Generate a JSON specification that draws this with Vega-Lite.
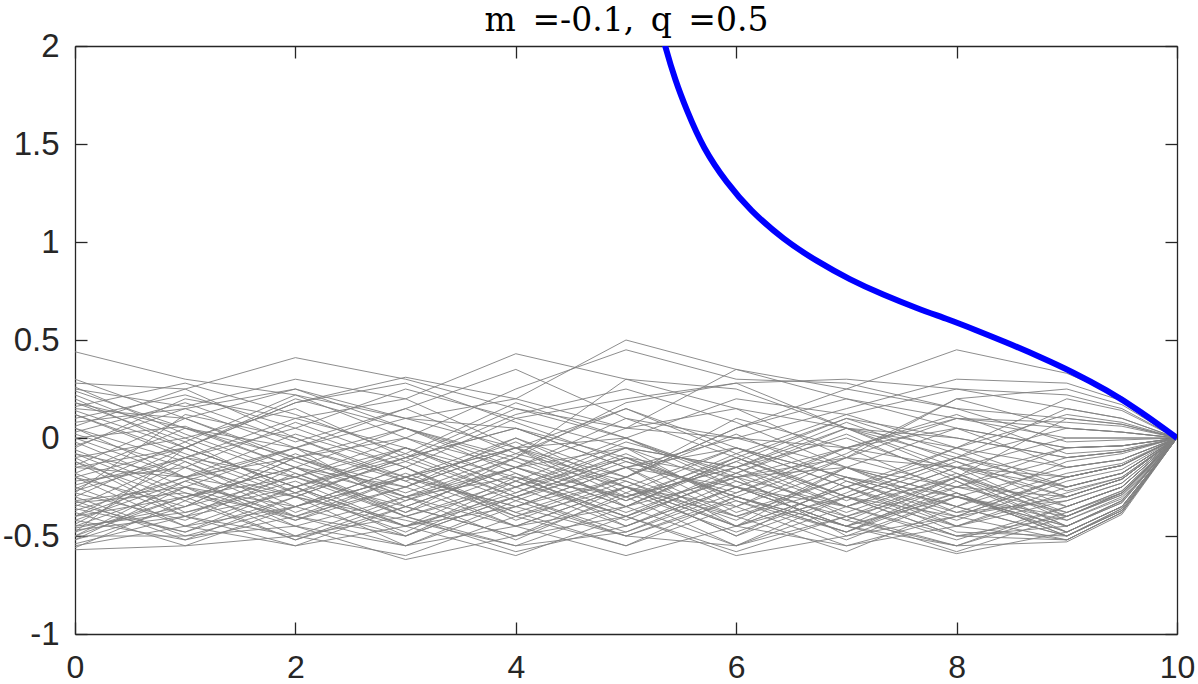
{
"$schema":"https://vega.github.io/schema/vega-lite/v6.json",
"autosize":"none",
"width":1102,"height":588,
"padding":{"left":75,"top":46,"right":21,"bottom":50},
"background":"white",
"config":{"view":{"stroke":null},"font":"Liberation Sans"},
"datasets":{
"paths":[
{"p":1,"x":0,"y":0.44},{"p":1,"x":1,"y":0.30},{"p":1,"x":2,"y":0.22},{"p":1,"x":3,"y":0.10},{"p":1,"x":4,"y":0.05},{"p":1,"x":5,"y":-0.10},{"p":1,"x":6,"y":-0.20},{"p":1,"x":7,"y":-0.15},{"p":1,"x":8,"y":-0.25},{"p":1,"x":9,"y":-0.30},{"p":1,"x":9.5,"y":-0.21},{"p":1,"x":10,"y":0},
{"p":2,"x":0,"y":0.28},{"p":2,"x":1,"y":0.25},{"p":2,"x":2,"y":0.41},{"p":2,"x":3,"y":0.30},{"p":2,"x":4,"y":0.15},{"p":2,"x":5,"y":0.05},{"p":2,"x":6,"y":0.00},{"p":2,"x":7,"y":-0.05},{"p":2,"x":8,"y":-0.15},{"p":2,"x":9,"y":-0.20},{"p":2,"x":9.5,"y":-0.14},{"p":2,"x":10,"y":0},
{"p":3,"x":0,"y":0.25},{"p":3,"x":1,"y":0.16},{"p":3,"x":2,"y":0.30},{"p":3,"x":3,"y":0.20},{"p":3,"x":4,"y":0.43},{"p":3,"x":5,"y":0.30},{"p":3,"x":6,"y":0.15},{"p":3,"x":7,"y":0.05},{"p":3,"x":8,"y":0.00},{"p":3,"x":9,"y":-0.10},{"p":3,"x":9.5,"y":-0.07},{"p":3,"x":10,"y":0},
{"p":4,"x":0,"y":0.20},{"p":4,"x":1,"y":-0.05},{"p":4,"x":2,"y":0.18},{"p":4,"x":3,"y":0.31},{"p":4,"x":4,"y":0.20},{"p":4,"x":5,"y":0.50},{"p":4,"x":6,"y":0.35},{"p":4,"x":7,"y":0.20},{"p":4,"x":8,"y":0.10},{"p":4,"x":9,"y":0.05},{"p":4,"x":9.5,"y":0.03},{"p":4,"x":10,"y":0},
{"p":5,"x":0,"y":0.18},{"p":5,"x":1,"y":0.05},{"p":5,"x":2,"y":-0.10},{"p":5,"x":3,"y":0.00},{"p":5,"x":4,"y":0.25},{"p":5,"x":5,"y":0.45},{"p":5,"x":6,"y":0.30},{"p":5,"x":7,"y":0.28},{"p":5,"x":8,"y":0.15},{"p":5,"x":9,"y":0.10},{"p":5,"x":9.5,"y":0.07},{"p":5,"x":10,"y":0},
{"p":6,"x":0,"y":0.15},{"p":6,"x":1,"y":0.10},{"p":6,"x":2,"y":0.25},{"p":6,"x":3,"y":0.10},{"p":6,"x":4,"y":0.20},{"p":6,"x":5,"y":0.05},{"p":6,"x":6,"y":0.35},{"p":6,"x":7,"y":0.25},{"p":6,"x":8,"y":0.45},{"p":6,"x":9,"y":0.33},{"p":6,"x":9.5,"y":0.21},{"p":6,"x":10,"y":0},
{"p":7,"x":0,"y":0.12},{"p":7,"x":1,"y":-0.10},{"p":7,"x":2,"y":0.05},{"p":7,"x":3,"y":0.25},{"p":7,"x":4,"y":0.10},{"p":7,"x":5,"y":0.20},{"p":7,"x":6,"y":0.28},{"p":7,"x":7,"y":0.30},{"p":7,"x":8,"y":0.25},{"p":7,"x":9,"y":0.22},{"p":7,"x":9.5,"y":0.15},{"p":7,"x":10,"y":0},
{"p":8,"x":0,"y":0.05},{"p":8,"x":1,"y":-0.20},{"p":8,"x":2,"y":-0.05},{"p":8,"x":3,"y":0.15},{"p":8,"x":4,"y":0.35},{"p":8,"x":5,"y":0.10},{"p":8,"x":6,"y":0.00},{"p":8,"x":7,"y":0.15},{"p":8,"x":8,"y":0.30},{"p":8,"x":9,"y":0.28},{"p":8,"x":9.5,"y":0.19},{"p":8,"x":10,"y":0},
{"p":9,"x":0,"y":0.00},{"p":9,"x":1,"y":0.06},{"p":9,"x":2,"y":-0.15},{"p":9,"x":3,"y":-0.30},{"p":9,"x":4,"y":-0.10},{"p":9,"x":5,"y":0.30},{"p":9,"x":6,"y":0.25},{"p":9,"x":7,"y":0.05},{"p":9,"x":8,"y":-0.05},{"p":9,"x":9,"y":0.20},{"p":9,"x":9.5,"y":0.14},{"p":9,"x":10,"y":0},
{"p":10,"x":0,"y":-0.02},{"p":10,"x":1,"y":-0.25},{"p":10,"x":2,"y":-0.35},{"p":10,"x":3,"y":-0.20},{"p":10,"x":4,"y":-0.05},{"p":10,"x":5,"y":0.00},{"p":10,"x":6,"y":0.20},{"p":10,"x":7,"y":0.12},{"p":10,"x":8,"y":0.25},{"p":10,"x":9,"y":0.15},{"p":10,"x":9.5,"y":0.10},{"p":10,"x":10,"y":0},
{"p":11,"x":0,"y":-0.05},{"p":11,"x":1,"y":0.20},{"p":11,"x":2,"y":0.10},{"p":11,"x":3,"y":-0.05},{"p":11,"x":4,"y":-0.20},{"p":11,"x":5,"y":-0.30},{"p":11,"x":6,"y":-0.10},{"p":11,"x":7,"y":0.10},{"p":11,"x":8,"y":0.00},{"p":11,"x":9,"y":-0.10},{"p":11,"x":9.5,"y":-0.07},{"p":11,"x":10,"y":0},
{"p":12,"x":0,"y":-0.08},{"p":12,"x":1,"y":-0.30},{"p":12,"x":2,"y":-0.20},{"p":12,"x":3,"y":-0.40},{"p":12,"x":4,"y":-0.25},{"p":12,"x":5,"y":-0.10},{"p":12,"x":6,"y":-0.30},{"p":12,"x":7,"y":-0.45},{"p":12,"x":8,"y":-0.20},{"p":12,"x":9,"y":-0.05},{"p":12,"x":9.5,"y":-0.04},{"p":12,"x":10,"y":0},
{"p":13,"x":0,"y":-0.10},{"p":13,"x":1,"y":0.00},{"p":13,"x":2,"y":0.15},{"p":13,"x":3,"y":-0.10},{"p":13,"x":4,"y":0.05},{"p":13,"x":5,"y":-0.15},{"p":13,"x":6,"y":-0.05},{"p":13,"x":7,"y":-0.20},{"p":13,"x":8,"y":-0.30},{"p":13,"x":9,"y":-0.40},{"p":13,"x":9.5,"y":-0.28},{"p":13,"x":10,"y":0},
{"p":14,"x":0,"y":-0.12},{"p":14,"x":1,"y":-0.40},{"p":14,"x":2,"y":-0.50},{"p":14,"x":3,"y":-0.30},{"p":14,"x":4,"y":-0.45},{"p":14,"x":5,"y":-0.25},{"p":14,"x":6,"y":-0.40},{"p":14,"x":7,"y":-0.20},{"p":14,"x":8,"y":-0.35},{"p":14,"x":9,"y":-0.50},{"p":14,"x":9.5,"y":-0.36},{"p":14,"x":10,"y":0},
{"p":15,"x":0,"y":-0.15},{"p":15,"x":1,"y":-0.20},{"p":15,"x":2,"y":-0.30},{"p":15,"x":3,"y":-0.55},{"p":15,"x":4,"y":-0.35},{"p":15,"x":5,"y":-0.50},{"p":15,"x":6,"y":-0.30},{"p":15,"x":7,"y":-0.10},{"p":15,"x":8,"y":-0.15},{"p":15,"x":9,"y":-0.25},{"p":15,"x":9.5,"y":-0.18},{"p":15,"x":10,"y":0},
{"p":16,"x":0,"y":-0.18},{"p":16,"x":1,"y":0.05},{"p":16,"x":2,"y":-0.05},{"p":16,"x":3,"y":-0.20},{"p":16,"x":4,"y":-0.35},{"p":16,"x":5,"y":-0.15},{"p":16,"x":6,"y":-0.25},{"p":16,"x":7,"y":-0.35},{"p":16,"x":8,"y":-0.50},{"p":16,"x":9,"y":-0.45},{"p":16,"x":9.5,"y":-0.32},{"p":16,"x":10,"y":0},
{"p":17,"x":0,"y":-0.20},{"p":17,"x":1,"y":-0.35},{"p":17,"x":2,"y":-0.10},{"p":17,"x":3,"y":0.05},{"p":17,"x":4,"y":-0.10},{"p":17,"x":5,"y":-0.25},{"p":17,"x":6,"y":-0.50},{"p":17,"x":7,"y":-0.30},{"p":17,"x":8,"y":-0.10},{"p":17,"x":9,"y":0.05},{"p":17,"x":9.5,"y":0.03},{"p":17,"x":10,"y":0},
{"p":18,"x":0,"y":-0.22},{"p":18,"x":1,"y":-0.15},{"p":18,"x":2,"y":-0.40},{"p":18,"x":3,"y":-0.25},{"p":18,"x":4,"y":-0.05},{"p":18,"x":5,"y":-0.35},{"p":18,"x":6,"y":-0.20},{"p":18,"x":7,"y":-0.50},{"p":18,"x":8,"y":-0.40},{"p":18,"x":9,"y":-0.30},{"p":18,"x":9.5,"y":-0.21},{"p":18,"x":10,"y":0},
{"p":19,"x":0,"y":-0.25},{"p":19,"x":1,"y":-0.45},{"p":19,"x":2,"y":-0.25},{"p":19,"x":3,"y":-0.10},{"p":19,"x":4,"y":-0.30},{"p":19,"x":5,"y":-0.15},{"p":19,"x":6,"y":-0.45},{"p":19,"x":7,"y":-0.25},{"p":19,"x":8,"y":-0.05},{"p":19,"x":9,"y":-0.15},{"p":19,"x":9.5,"y":-0.11},{"p":19,"x":10,"y":0},
{"p":20,"x":0,"y":-0.27},{"p":20,"x":1,"y":-0.10},{"p":20,"x":2,"y":-0.30},{"p":20,"x":3,"y":-0.45},{"p":20,"x":4,"y":-0.20},{"p":20,"x":5,"y":-0.40},{"p":20,"x":6,"y":-0.15},{"p":20,"x":7,"y":0.00},{"p":20,"x":8,"y":-0.20},{"p":20,"x":9,"y":-0.35},{"p":20,"x":9.5,"y":-0.25},{"p":20,"x":10,"y":0},
{"p":21,"x":0,"y":-0.30},{"p":21,"x":1,"y":-0.50},{"p":21,"x":2,"y":-0.35},{"p":21,"x":3,"y":-0.15},{"p":21,"x":4,"y":-0.40},{"p":21,"x":5,"y":-0.55},{"p":21,"x":6,"y":-0.35},{"p":21,"x":7,"y":-0.15},{"p":21,"x":8,"y":-0.30},{"p":21,"x":9,"y":-0.45},{"p":21,"x":9.5,"y":-0.32},{"p":21,"x":10,"y":0},
{"p":22,"x":0,"y":-0.32},{"p":22,"x":1,"y":-0.25},{"p":22,"x":2,"y":-0.05},{"p":22,"x":3,"y":-0.35},{"p":22,"x":4,"y":-0.50},{"p":22,"x":5,"y":-0.30},{"p":22,"x":6,"y":-0.55},{"p":22,"x":7,"y":-0.40},{"p":22,"x":8,"y":-0.25},{"p":22,"x":9,"y":-0.10},{"p":22,"x":9.5,"y":-0.07},{"p":22,"x":10,"y":0},
{"p":23,"x":0,"y":-0.35},{"p":23,"x":1,"y":-0.10},{"p":23,"x":2,"y":-0.20},{"p":23,"x":3,"y":-0.05},{"p":23,"x":4,"y":-0.25},{"p":23,"x":5,"y":-0.45},{"p":23,"x":6,"y":-0.25},{"p":23,"x":7,"y":-0.05},{"p":23,"x":8,"y":0.10},{"p":23,"x":9,"y":0.00},{"p":23,"x":9.5,"y":0.00},{"p":23,"x":10,"y":0},
{"p":24,"x":0,"y":-0.37},{"p":24,"x":1,"y":-0.20},{"p":24,"x":2,"y":-0.45},{"p":24,"x":3,"y":-0.30},{"p":24,"x":4,"y":-0.15},{"p":24,"x":5,"y":-0.05},{"p":24,"x":6,"y":-0.35},{"p":24,"x":7,"y":-0.55},{"p":24,"x":8,"y":-0.45},{"p":24,"x":9,"y":-0.25},{"p":24,"x":9.5,"y":-0.18},{"p":24,"x":10,"y":0},
{"p":25,"x":0,"y":-0.40},{"p":25,"x":1,"y":-0.30},{"p":25,"x":2,"y":-0.15},{"p":25,"x":3,"y":-0.40},{"p":25,"x":4,"y":-0.55},{"p":25,"x":5,"y":-0.35},{"p":25,"x":6,"y":-0.10},{"p":25,"x":7,"y":-0.30},{"p":25,"x":8,"y":-0.50},{"p":25,"x":9,"y":-0.40},{"p":25,"x":9.5,"y":-0.28},{"p":25,"x":10,"y":0},
{"p":26,"x":0,"y":-0.42},{"p":26,"x":1,"y":-0.52},{"p":26,"x":2,"y":-0.40},{"p":26,"x":3,"y":-0.20},{"p":26,"x":4,"y":-0.35},{"p":26,"x":5,"y":-0.20},{"p":26,"x":6,"y":-0.40},{"p":26,"x":7,"y":-0.25},{"p":26,"x":8,"y":-0.10},{"p":26,"x":9,"y":-0.20},{"p":26,"x":9.5,"y":-0.14},{"p":26,"x":10,"y":0},
{"p":27,"x":0,"y":-0.45},{"p":27,"x":1,"y":-0.25},{"p":27,"x":2,"y":-0.50},{"p":27,"x":3,"y":-0.60},{"p":27,"x":4,"y":-0.40},{"p":27,"x":5,"y":-0.25},{"p":27,"x":6,"y":-0.05},{"p":27,"x":7,"y":-0.20},{"p":27,"x":8,"y":-0.35},{"p":27,"x":9,"y":-0.50},{"p":27,"x":9.5,"y":-0.36},{"p":27,"x":10,"y":0},
{"p":28,"x":0,"y":-0.47},{"p":28,"x":1,"y":-0.40},{"p":28,"x":2,"y":-0.55},{"p":28,"x":3,"y":-0.45},{"p":28,"x":4,"y":-0.30},{"p":28,"x":5,"y":-0.50},{"p":28,"x":6,"y":-0.55},{"p":28,"x":7,"y":-0.35},{"p":28,"x":8,"y":-0.15},{"p":28,"x":9,"y":-0.30},{"p":28,"x":9.5,"y":-0.21},{"p":28,"x":10,"y":0},
{"p":29,"x":0,"y":-0.48},{"p":29,"x":1,"y":-0.05},{"p":29,"x":2,"y":-0.25},{"p":29,"x":3,"y":-0.50},{"p":29,"x":4,"y":-0.30},{"p":29,"x":5,"y":-0.10},{"p":29,"x":6,"y":-0.30},{"p":29,"x":7,"y":-0.45},{"p":29,"x":8,"y":-0.55},{"p":29,"x":9,"y":-0.35},{"p":29,"x":9.5,"y":-0.25},{"p":29,"x":10,"y":0},
{"p":30,"x":0,"y":-0.50},{"p":30,"x":1,"y":-0.30},{"p":30,"x":2,"y":-0.15},{"p":30,"x":3,"y":-0.25},{"p":30,"x":4,"y":-0.45},{"p":30,"x":5,"y":-0.60},{"p":30,"x":6,"y":-0.45},{"p":30,"x":7,"y":-0.30},{"p":30,"x":8,"y":-0.40},{"p":30,"x":9,"y":-0.52},{"p":30,"x":9.5,"y":-0.38},{"p":30,"x":10,"y":0},
{"p":31,"x":0,"y":-0.50},{"p":31,"x":1,"y":-0.50},{"p":31,"x":2,"y":-0.45},{"p":31,"x":3,"y":-0.62},{"p":31,"x":4,"y":-0.50},{"p":31,"x":5,"y":-0.40},{"p":31,"x":6,"y":-0.60},{"p":31,"x":7,"y":-0.50},{"p":31,"x":8,"y":-0.30},{"p":31,"x":9,"y":-0.45},{"p":31,"x":9.5,"y":-0.32},{"p":31,"x":10,"y":0},
{"p":32,"x":0,"y":-0.52},{"p":32,"x":1,"y":-0.35},{"p":32,"x":2,"y":-0.20},{"p":32,"x":3,"y":0.00},{"p":32,"x":4,"y":-0.15},{"p":32,"x":5,"y":-0.30},{"p":32,"x":6,"y":-0.15},{"p":32,"x":7,"y":-0.40},{"p":32,"x":8,"y":-0.58},{"p":32,"x":9,"y":-0.40},{"p":32,"x":9.5,"y":-0.28},{"p":32,"x":10,"y":0},
{"p":33,"x":0,"y":-0.55},{"p":33,"x":1,"y":-0.45},{"p":33,"x":2,"y":-0.35},{"p":33,"x":3,"y":-0.20},{"p":33,"x":4,"y":-0.05},{"p":33,"x":5,"y":0.15},{"p":33,"x":6,"y":-0.05},{"p":33,"x":7,"y":-0.25},{"p":33,"x":8,"y":-0.45},{"p":33,"x":9,"y":-0.28},{"p":33,"x":9.5,"y":-0.20},{"p":33,"x":10,"y":0},
{"p":34,"x":0,"y":-0.57},{"p":34,"x":1,"y":-0.55},{"p":34,"x":2,"y":-0.50},{"p":34,"x":3,"y":-0.40},{"p":34,"x":4,"y":-0.58},{"p":34,"x":5,"y":-0.45},{"p":34,"x":6,"y":-0.25},{"p":34,"x":7,"y":-0.45},{"p":34,"x":8,"y":-0.59},{"p":34,"x":9,"y":-0.48},{"p":34,"x":9.5,"y":-0.35},{"p":34,"x":10,"y":0},
{"p":35,"x":0,"y":0.30},{"p":35,"x":1,"y":0.10},{"p":35,"x":2,"y":-0.10},{"p":35,"x":3,"y":-0.25},{"p":35,"x":4,"y":0.00},{"p":35,"x":5,"y":-0.20},{"p":35,"x":6,"y":0.10},{"p":35,"x":7,"y":-0.05},{"p":35,"x":8,"y":0.05},{"p":35,"x":9,"y":-0.05},{"p":35,"x":9.5,"y":-0.04},{"p":35,"x":10,"y":0},
{"p":36,"x":0,"y":0.10},{"p":36,"x":1,"y":0.22},{"p":36,"x":2,"y":0.05},{"p":36,"x":3,"y":-0.15},{"p":36,"x":4,"y":0.10},{"p":36,"x":5,"y":-0.05},{"p":36,"x":6,"y":-0.15},{"p":36,"x":7,"y":0.05},{"p":36,"x":8,"y":-0.10},{"p":36,"x":9,"y":0.15},{"p":36,"x":9.5,"y":0.10},{"p":36,"x":10,"y":0},
{"p":37,"x":0,"y":-0.15},{"p":37,"x":1,"y":-0.05},{"p":37,"x":2,"y":0.20},{"p":37,"x":3,"y":0.05},{"p":37,"x":4,"y":-0.15},{"p":37,"x":5,"y":0.05},{"p":37,"x":6,"y":0.15},{"p":37,"x":7,"y":-0.10},{"p":37,"x":8,"y":0.10},{"p":37,"x":9,"y":0.08},{"p":37,"x":9.5,"y":0.06},{"p":37,"x":10,"y":0},
{"p":38,"x":0,"y":-0.28},{"p":38,"x":1,"y":0.12},{"p":38,"x":2,"y":0.00},{"p":38,"x":3,"y":-0.20},{"p":38,"x":4,"y":-0.40},{"p":38,"x":5,"y":-0.20},{"p":38,"x":6,"y":0.05},{"p":38,"x":7,"y":0.20},{"p":38,"x":8,"y":0.05},{"p":38,"x":9,"y":-0.15},{"p":38,"x":9.5,"y":-0.11},{"p":38,"x":10,"y":0},
{"p":39,"x":0,"y":0.02},{"p":39,"x":1,"y":-0.15},{"p":39,"x":2,"y":-0.30},{"p":39,"x":3,"y":-0.10},{"p":39,"x":4,"y":0.15},{"p":39,"x":5,"y":0.00},{"p":39,"x":6,"y":-0.20},{"p":39,"x":7,"y":-0.35},{"p":39,"x":8,"y":-0.20},{"p":39,"x":9,"y":0.10},{"p":39,"x":9.5,"y":0.07},{"p":39,"x":10,"y":0},
{"p":40,"x":0,"y":-0.40},{"p":40,"x":1,"y":-0.20},{"p":40,"x":2,"y":-0.10},{"p":40,"x":3,"y":-0.30},{"p":40,"x":4,"y":-0.20},{"p":40,"x":5,"y":-0.40},{"p":40,"x":6,"y":-0.20},{"p":40,"x":7,"y":-0.10},{"p":40,"x":8,"y":-0.25},{"p":40,"x":9,"y":-0.38},{"p":40,"x":9.5,"y":-0.27},{"p":40,"x":10,"y":0},
{"p":41,"x":0,"y":-0.20},{"p":41,"x":1,"y":-0.45},{"p":41,"x":2,"y":-0.55},{"p":41,"x":3,"y":-0.35},{"p":41,"x":4,"y":-0.50},{"p":41,"x":5,"y":-0.25},{"p":41,"x":6,"y":-0.45},{"p":41,"x":7,"y":-0.55},{"p":41,"x":8,"y":-0.40},{"p":41,"x":9,"y":-0.20},{"p":41,"x":9.5,"y":-0.14},{"p":41,"x":10,"y":0},
{"p":42,"x":0,"y":-0.33},{"p":42,"x":1,"y":-0.28},{"p":42,"x":2,"y":-0.40},{"p":42,"x":3,"y":-0.50},{"p":42,"x":4,"y":-0.25},{"p":42,"x":5,"y":-0.05},{"p":42,"x":6,"y":-0.25},{"p":42,"x":7,"y":-0.40},{"p":42,"x":8,"y":-0.55},{"p":42,"x":9,"y":-0.53},{"p":42,"x":9.5,"y":-0.39},{"p":42,"x":10,"y":0},
{"p":43,"x":0,"y":0.22},{"p":43,"x":1,"y":0.00},{"p":43,"x":2,"y":-0.20},{"p":43,"x":3,"y":-0.35},{"p":43,"x":4,"y":-0.15},{"p":43,"x":5,"y":0.10},{"p":43,"x":6,"y":-0.10},{"p":43,"x":7,"y":-0.30},{"p":43,"x":8,"y":-0.10},{"p":43,"x":9,"y":-0.25},{"p":43,"x":9.5,"y":-0.18},{"p":43,"x":10,"y":0},
{"p":44,"x":0,"y":-0.45},{"p":44,"x":1,"y":-0.38},{"p":44,"x":2,"y":-0.25},{"p":44,"x":3,"y":-0.45},{"p":44,"x":4,"y":-0.35},{"p":44,"x":5,"y":-0.15},{"p":44,"x":6,"y":0.00},{"p":44,"x":7,"y":-0.15},{"p":44,"x":8,"y":-0.30},{"p":44,"x":9,"y":-0.42},{"p":44,"x":9.5,"y":-0.30},{"p":44,"x":10,"y":0},
{"p":45,"x":0,"y":-0.06},{"p":45,"x":1,"y":-0.28},{"p":45,"x":2,"y":-0.45},{"p":45,"x":3,"y":-0.55},{"p":45,"x":4,"y":-0.45},{"p":45,"x":5,"y":-0.35},{"p":45,"x":6,"y":-0.55},{"p":45,"x":7,"y":-0.30},{"p":45,"x":8,"y":-0.45},{"p":45,"x":9,"y":-0.32},{"p":45,"x":9.5,"y":-0.23},{"p":45,"x":10,"y":0},
{"p":46,"x":0,"y":0.08},{"p":46,"x":1,"y":0.15},{"p":46,"x":2,"y":-0.05},{"p":46,"x":3,"y":0.10},{"p":46,"x":4,"y":-0.05},{"p":46,"x":5,"y":-0.25},{"p":46,"x":6,"y":-0.35},{"p":46,"x":7,"y":-0.10},{"p":46,"x":8,"y":0.20},{"p":46,"x":9,"y":0.25},{"p":46,"x":9.5,"y":0.17},{"p":46,"x":10,"y":0},
{"p":47,"x":0,"y":-0.36},{"p":47,"x":1,"y":-0.48},{"p":47,"x":2,"y":-0.30},{"p":47,"x":3,"y":-0.10},{"p":47,"x":4,"y":0.05},{"p":47,"x":5,"y":-0.15},{"p":47,"x":6,"y":-0.40},{"p":47,"x":7,"y":-0.58},{"p":47,"x":8,"y":-0.35},{"p":47,"x":9,"y":-0.12},{"p":47,"x":9.5,"y":-0.08},{"p":47,"x":10,"y":0},
{"p":48,"x":0,"y":-0.24},{"p":48,"x":1,"y":-0.10},{"p":48,"x":2,"y":0.10},{"p":48,"x":3,"y":0.20},{"p":48,"x":4,"y":-0.05},{"p":48,"x":5,"y":-0.20},{"p":48,"x":6,"y":0.05},{"p":48,"x":7,"y":0.25},{"p":48,"x":8,"y":0.15},{"p":48,"x":9,"y":-0.02},{"p":48,"x":9.5,"y":-0.01},{"p":48,"x":10,"y":0},
{"p":49,"x":0,"y":0.26},{"p":49,"x":1,"y":0.02},{"p":49,"x":2,"y":-0.18},{"p":49,"x":3,"y":-0.40},{"p":49,"x":4,"y":-0.22},{"p":49,"x":5,"y":-0.42},{"p":49,"x":6,"y":-0.18},{"p":49,"x":7,"y":0.02},{"p":49,"x":8,"y":-0.22},{"p":49,"x":9,"y":-0.45},{"p":49,"x":9.5,"y":-0.33},{"p":49,"x":10,"y":0},
{"p":50,"x":0,"y":-0.44},{"p":50,"x":1,"y":-0.15},{"p":50,"x":2,"y":0.08},{"p":50,"x":3,"y":-0.12},{"p":50,"x":4,"y":-0.32},{"p":50,"x":5,"y":-0.50},{"p":50,"x":6,"y":-0.32},{"p":50,"x":7,"y":-0.48},{"p":50,"x":8,"y":-0.28},{"p":50,"x":9,"y":-0.50},{"p":50,"x":9.5,"y":-0.37},{"p":50,"x":10,"y":0},
{"p":51,"x":0,"y":0.16},{"p":51,"x":1,"y":0.28},{"p":51,"x":2,"y":0.12},{"p":51,"x":3,"y":-0.08},{"p":51,"x":4,"y":0.18},{"p":51,"x":5,"y":0.00},{"p":51,"x":6,"y":-0.22},{"p":51,"x":7,"y":-0.42},{"p":51,"x":8,"y":-0.55},{"p":51,"x":9,"y":-0.38},{"p":51,"x":9.5,"y":-0.28},{"p":51,"x":10,"y":0},
{"p":52,"x":0,"y":-0.10},{"p":52,"x":1,"y":-0.38},{"p":52,"x":2,"y":-0.22},{"p":52,"x":3,"y":-0.45},{"p":52,"x":4,"y":-0.60},{"p":52,"x":5,"y":-0.40},{"p":52,"x":6,"y":-0.20},{"p":52,"x":7,"y":-0.05},{"p":52,"x":8,"y":0.12},{"p":52,"x":9,"y":-0.08},{"p":52,"x":9.5,"y":-0.06},{"p":52,"x":10,"y":0},
{"p":53,"x":0,"y":-0.52},{"p":53,"x":1,"y":-0.25},{"p":53,"x":2,"y":-0.42},{"p":53,"x":3,"y":-0.20},{"p":53,"x":4,"y":0.00},{"p":53,"x":5,"y":-0.25},{"p":53,"x":6,"y":-0.50},{"p":53,"x":7,"y":-0.22},{"p":53,"x":8,"y":-0.40},{"p":53,"x":9,"y":-0.20},{"p":53,"x":9.5,"y":-0.14},{"p":53,"x":10,"y":0},
{"p":54,"x":0,"y":0.05},{"p":54,"x":1,"y":-0.12},{"p":54,"x":2,"y":-0.38},{"p":54,"x":3,"y":-0.18},{"p":54,"x":4,"y":-0.38},{"p":54,"x":5,"y":-0.55},{"p":54,"x":6,"y":-0.30},{"p":54,"x":7,"y":-0.48},{"p":54,"x":8,"y":-0.25},{"p":54,"x":9,"y":-0.05},{"p":54,"x":9.5,"y":-0.04},{"p":54,"x":10,"y":0},
{"p":55,"x":0,"y":-0.30},{"p":55,"x":1,"y":-0.05},{"p":55,"x":2,"y":0.18},{"p":55,"x":3,"y":0.28},{"p":55,"x":4,"y":0.08},{"p":55,"x":5,"y":-0.12},{"p":55,"x":6,"y":-0.28},{"p":55,"x":7,"y":-0.05},{"p":55,"x":8,"y":-0.28},{"p":55,"x":9,"y":-0.48},{"p":55,"x":9.5,"y":-0.35},{"p":55,"x":10,"y":0},
{"p":56,"x":0,"y":-0.18},{"p":56,"x":1,"y":-0.40},{"p":56,"x":2,"y":-0.15},{"p":56,"x":3,"y":-0.38},{"p":56,"x":4,"y":-0.10},{"p":56,"x":5,"y":0.18},{"p":56,"x":6,"y":0.28},{"p":56,"x":7,"y":0.05},{"p":56,"x":8,"y":-0.18},{"p":56,"x":9,"y":-0.42},{"p":56,"x":9.5,"y":-0.31},{"p":56,"x":10,"y":0},
{"p":57,"x":0,"y":-0.38},{"p":57,"x":1,"y":-0.55},{"p":57,"x":2,"y":-0.35},{"p":57,"x":3,"y":-0.50},{"p":57,"x":4,"y":-0.30},{"p":57,"x":5,"y":-0.10},{"p":57,"x":6,"y":-0.38},{"p":57,"x":7,"y":-0.20},{"p":57,"x":8,"y":-0.45},{"p":57,"x":9,"y":-0.52},{"p":57,"x":9.5,"y":-0.38},{"p":57,"x":10,"y":0},
{"p":58,"x":0,"y":0.12},{"p":58,"x":1,"y":-0.08},{"p":58,"x":2,"y":-0.28},{"p":58,"x":3,"y":-0.05},{"p":58,"x":4,"y":-0.28},{"p":58,"x":5,"y":-0.08},{"p":58,"x":6,"y":-0.32},{"p":58,"x":7,"y":-0.52},{"p":58,"x":8,"y":-0.30},{"p":58,"x":9,"y":-0.15},{"p":58,"x":9.5,"y":-0.11},{"p":58,"x":10,"y":0},
{"p":59,"x":0,"y":-0.26},{"p":59,"x":1,"y":-0.02},{"p":59,"x":2,"y":-0.28},{"p":59,"x":3,"y":-0.12},{"p":59,"x":4,"y":0.12},{"p":59,"x":5,"y":0.25},{"p":59,"x":6,"y":0.08},{"p":59,"x":7,"y":-0.15},{"p":59,"x":8,"y":-0.38},{"p":59,"x":9,"y":-0.20},{"p":59,"x":9.5,"y":-0.14},{"p":59,"x":10,"y":0},
{"p":60,"x":0,"y":-0.48},{"p":60,"x":1,"y":-0.30},{"p":60,"x":2,"y":-0.52},{"p":60,"x":3,"y":-0.35},{"p":60,"x":4,"y":-0.15},{"p":60,"x":5,"y":-0.35},{"p":60,"x":6,"y":-0.12},{"p":60,"x":7,"y":-0.35},{"p":60,"x":8,"y":-0.52},{"p":60,"x":9,"y":-0.35},{"p":60,"x":9.5,"y":-0.25},{"p":60,"x":10,"y":0},
{"p":61,"x":0,"y":0.00},{"p":61,"x":1,"y":-0.20},{"p":61,"x":2,"y":0.02},{"p":61,"x":3,"y":-0.15},{"p":61,"x":4,"y":-0.42},{"p":61,"x":5,"y":-0.22},{"p":61,"x":6,"y":-0.42},{"p":61,"x":7,"y":-0.15},{"p":61,"x":8,"y":0.05},{"p":61,"x":9,"y":-0.05},{"p":61,"x":9.5,"y":-0.04},{"p":61,"x":10,"y":0},
{"p":62,"x":0,"y":-0.14},{"p":62,"x":1,"y":0.10},{"p":62,"x":2,"y":-0.12},{"p":62,"x":3,"y":-0.32},{"p":62,"x":4,"y":-0.15},{"p":62,"x":5,"y":-0.35},{"p":62,"x":6,"y":-0.10},{"p":62,"x":7,"y":-0.32},{"p":62,"x":8,"y":-0.12},{"p":62,"x":9,"y":-0.30},{"p":62,"x":9.5,"y":-0.21},{"p":62,"x":10,"y":0},
{"p":63,"x":0,"y":-0.34},{"p":63,"x":1,"y":-0.48},{"p":63,"x":2,"y":-0.25},{"p":63,"x":3,"y":-0.05},{"p":63,"x":4,"y":-0.25},{"p":63,"x":5,"y":-0.02},{"p":63,"x":6,"y":-0.18},{"p":63,"x":7,"y":0.05},{"p":63,"x":8,"y":-0.15},{"p":63,"x":9,"y":-0.40},{"p":63,"x":9.5,"y":-0.29},{"p":63,"x":10,"y":0},
{"p":64,"x":0,"y":-0.56},{"p":64,"x":1,"y":-0.32},{"p":64,"x":2,"y":-0.08},{"p":64,"x":3,"y":-0.30},{"p":64,"x":4,"y":-0.52},{"p":64,"x":5,"y":-0.28},{"p":64,"x":6,"y":-0.48},{"p":64,"x":7,"y":-0.28},{"p":64,"x":8,"y":-0.05},{"p":64,"x":9,"y":-0.25},{"p":64,"x":9.5,"y":-0.18},{"p":64,"x":10,"y":0},
{"p":65,"x":0,"y":0.18},{"p":65,"x":1,"y":-0.02},{"p":65,"x":2,"y":0.22},{"p":65,"x":3,"y":0.00},{"p":65,"x":4,"y":-0.22},{"p":65,"x":5,"y":0.00},{"p":65,"x":6,"y":-0.25},{"p":65,"x":7,"y":-0.45},{"p":65,"x":8,"y":-0.30},{"p":65,"x":9,"y":-0.48},{"p":65,"x":9.5,"y":-0.35},{"p":65,"x":10,"y":0},
{"p":66,"x":0,"y":-0.08},{"p":66,"x":1,"y":-0.20},{"p":66,"x":2,"y":-0.42},{"p":66,"x":3,"y":-0.25},{"p":66,"x":4,"y":-0.05},{"p":66,"x":5,"y":-0.30},{"p":66,"x":6,"y":-0.15},{"p":66,"x":7,"y":0.08},{"p":66,"x":8,"y":-0.12},{"p":66,"x":9,"y":-0.35},{"p":66,"x":9.5,"y":-0.25},{"p":66,"x":10,"y":0},
{"p":67,"x":0,"y":-0.42},{"p":67,"x":1,"y":-0.22},{"p":67,"x":2,"y":-0.40},{"p":67,"x":3,"y":-0.55},{"p":67,"x":4,"y":-0.32},{"p":67,"x":5,"y":-0.12},{"p":67,"x":6,"y":-0.30},{"p":67,"x":7,"y":-0.48},{"p":67,"x":8,"y":-0.22},{"p":67,"x":9,"y":-0.48},{"p":67,"x":9.5,"y":-0.35},{"p":67,"x":10,"y":0},
{"p":68,"x":0,"y":0.06},{"p":68,"x":1,"y":0.25},{"p":68,"x":2,"y":0.00},{"p":68,"x":3,"y":-0.22},{"p":68,"x":4,"y":-0.02},{"p":68,"x":5,"y":-0.28},{"p":68,"x":6,"y":-0.05},{"p":68,"x":7,"y":-0.25},{"p":68,"x":8,"y":-0.48},{"p":68,"x":9,"y":-0.50},{"p":68,"x":9.5,"y":-0.37},{"p":68,"x":10,"y":0},
{"p":69,"x":0,"y":-0.20},{"p":69,"x":1,"y":-0.05},{"p":69,"x":2,"y":-0.25},{"p":69,"x":3,"y":-0.08},{"p":69,"x":4,"y":-0.30},{"p":69,"x":5,"y":-0.48},{"p":69,"x":6,"y":-0.28},{"p":69,"x":7,"y":-0.08},{"p":69,"x":8,"y":0.20},{"p":69,"x":9,"y":0.05},{"p":69,"x":9.5,"y":0.03},{"p":69,"x":10,"y":0},
{"p":70,"x":0,"y":-0.46},{"p":70,"x":1,"y":-0.35},{"p":70,"x":2,"y":-0.10},{"p":70,"x":3,"y":-0.28},{"p":70,"x":4,"y":-0.08},{"p":70,"x":5,"y":-0.22},{"p":70,"x":6,"y":-0.45},{"p":70,"x":7,"y":-0.25},{"p":70,"x":8,"y":-0.42},{"p":70,"x":9,"y":-0.22},{"p":70,"x":9.5,"y":-0.16},{"p":70,"x":10,"y":0},
{"p":71,"x":0,"y":-0.28},{"p":71,"x":1,"y":-0.42},{"p":71,"x":2,"y":-0.18},{"p":71,"x":3,"y":-0.38},{"p":71,"x":4,"y":-0.18},{"p":71,"x":5,"y":-0.45},{"p":71,"x":6,"y":-0.22},{"p":71,"x":7,"y":-0.42},{"p":71,"x":8,"y":-0.20},{"p":71,"x":9,"y":-0.40},{"p":71,"x":9.5,"y":-0.29},{"p":71,"x":10,"y":0},
{"p":72,"x":0,"y":0.24},{"p":72,"x":1,"y":0.05},{"p":72,"x":2,"y":-0.15},{"p":72,"x":3,"y":0.05},{"p":72,"x":4,"y":-0.12},{"p":72,"x":5,"y":-0.32},{"p":72,"x":6,"y":-0.12},{"p":72,"x":7,"y":0.10},{"p":72,"x":8,"y":-0.08},{"p":72,"x":9,"y":-0.27},{"p":72,"x":9.5,"y":-0.20},{"p":72,"x":10,"y":0},
{"p":73,"x":0,"y":-0.54},{"p":73,"x":1,"y":-0.40},{"p":73,"x":2,"y":-0.28},{"p":73,"x":3,"y":-0.48},{"p":73,"x":4,"y":-0.22},{"p":73,"x":5,"y":-0.40},{"p":73,"x":6,"y":-0.58},{"p":73,"x":7,"y":-0.40},{"p":73,"x":8,"y":-0.20},{"p":73,"x":9,"y":-0.45},{"p":73,"x":9.5,"y":-0.33},{"p":73,"x":10,"y":0},
{"p":74,"x":0,"y":-0.12},{"p":74,"x":1,"y":-0.32},{"p":74,"x":2,"y":-0.52},{"p":74,"x":3,"y":-0.32},{"p":74,"x":4,"y":-0.10},{"p":74,"x":5,"y":-0.32},{"p":74,"x":6,"y":-0.08},{"p":74,"x":7,"y":-0.30},{"p":74,"x":8,"y":-0.50},{"p":74,"x":9,"y":-0.52},{"p":74,"x":9.5,"y":-0.38},{"p":74,"x":10,"y":0},
{"p":75,"x":0,"y":0.14},{"p":75,"x":1,"y":-0.05},{"p":75,"x":2,"y":-0.25},{"p":75,"x":3,"y":-0.45},{"p":75,"x":4,"y":-0.28},{"p":75,"x":5,"y":-0.05},{"p":75,"x":6,"y":-0.15},{"p":75,"x":7,"y":-0.35},{"p":75,"x":8,"y":-0.15},{"p":75,"x":9,"y":0.00},{"p":75,"x":9.5,"y":0.00},{"p":75,"x":10,"y":0},
{"p":76,"x":0,"y":-0.40},{"p":76,"x":1,"y":-0.12},{"p":76,"x":2,"y":-0.35},{"p":76,"x":3,"y":-0.15},{"p":76,"x":4,"y":-0.38},{"p":76,"x":5,"y":-0.20},{"p":76,"x":6,"y":0.02},{"p":76,"x":7,"y":-0.22},{"p":76,"x":8,"y":-0.38},{"p":76,"x":9,"y":-0.32},{"p":76,"x":9.5,"y":-0.23},{"p":76,"x":10,"y":0},
{"p":77,"x":0,"y":-0.32},{"p":77,"x":1,"y":-0.52},{"p":77,"x":2,"y":-0.30},{"p":77,"x":3,"y":-0.42},{"p":77,"x":4,"y":-0.55},{"p":77,"x":5,"y":-0.48},{"p":77,"x":6,"y":-0.25},{"p":77,"x":7,"y":-0.45},{"p":77,"x":8,"y":-0.28},{"p":77,"x":9,"y":-0.50},{"p":77,"x":9.5,"y":-0.37},{"p":77,"x":10,"y":0},
{"p":78,"x":0,"y":-0.04},{"p":78,"x":1,"y":0.15},{"p":78,"x":2,"y":0.25},{"p":78,"x":3,"y":0.05},{"p":78,"x":4,"y":-0.18},{"p":78,"x":5,"y":-0.38},{"p":78,"x":6,"y":-0.18},{"p":78,"x":7,"y":-0.38},{"p":78,"x":8,"y":-0.18},{"p":78,"x":9,"y":-0.38},{"p":78,"x":9.5,"y":-0.27},{"p":78,"x":10,"y":0},
{"p":79,"x":0,"y":-0.50},{"p":79,"x":1,"y":-0.22},{"p":79,"x":2,"y":-0.05},{"p":79,"x":3,"y":-0.22},{"p":79,"x":4,"y":-0.45},{"p":79,"x":5,"y":-0.25},{"p":79,"x":6,"y":-0.45},{"p":79,"x":7,"y":-0.15},{"p":79,"x":8,"y":-0.35},{"p":79,"x":9,"y":-0.18},{"p":79,"x":9.5,"y":-0.13},{"p":79,"x":10,"y":0},
{"p":80,"x":0,"y":0.03},{"p":80,"x":1,"y":0.18},{"p":80,"x":2,"y":-0.02},{"p":80,"x":3,"y":0.15},{"p":80,"x":4,"y":-0.08},{"p":80,"x":5,"y":0.15},{"p":80,"x":6,"y":-0.08},{"p":80,"x":7,"y":0.12},{"p":80,"x":8,"y":-0.05},{"p":80,"x":9,"y":0.12},{"p":80,"x":9.5,"y":0.08},{"p":80,"x":10,"y":0}
],
"bound":[
{"x":5.30,"y":2.12},{"x":5.354,"y":2.0},{"x":5.445,"y":1.827},{"x":5.55,"y":1.673},{"x":5.70,"y":1.478},{"x":5.913,"y":1.302},{"x":6.125,"y":1.162},{"x":6.43,"y":1.012},{"x":6.73,"y":0.902},{"x":7.03,"y":0.808},{"x":7.335,"y":0.730},{"x":7.638,"y":0.662},{"x":7.94,"y":0.602},{"x":8.15,"y":0.556},{"x":8.45,"y":0.488},{"x":8.757,"y":0.414},{"x":9.06,"y":0.335},{"x":9.36,"y":0.245},{"x":9.66,"y":0.140},{"x":10.0,"y":0.0}
]
},
"layer":[
{"data":{"name":"paths"},
 "mark":{"type":"line","color":"#808080","strokeWidth":0.9,"clip":true},
 "encoding":{
  "x":{"field":"x","type":"quantitative","scale":{"domain":[0,10],"nice":false,"zero":false},
       "axis":{"orient":"bottom","values":[0,2,4,6,8,10],"format":"d","title":null,"grid":false,
               "domainColor":"#262626","domainWidth":1.3,"tickColor":"#262626","tickWidth":1.3,"tickSize":-12,
               "labelPadding":30,"labelFontSize":32,"labelColor":"#262626","labelFont":"Liberation Sans","labelFlush":false}},
  "y":{"field":"y","type":"quantitative","scale":{"domain":[-1,2],"nice":false,"zero":false},
       "axis":{"orient":"left","values":[-1,-0.5,0,0.5,1,1.5,2],"labelExpr":"''+datum.value","title":null,"grid":false,
               "domainColor":"#262626","domainWidth":1.3,"tickColor":"#262626","tickWidth":1.3,"tickSize":-12,
               "labelPadding":28,"labelFontSize":33,"labelColor":"#262626","labelFont":"Liberation Sans","labelFlush":false}},
  "detail":{"field":"p","type":"nominal"}
 }},
{"data":{"name":"bound"},
 "mark":{"type":"line","color":"#0000ff","strokeWidth":6,"clip":true,"interpolate":"basis"},
 "encoding":{
  "x":{"field":"x","type":"quantitative",
       "axis":{"orient":"top","values":[0,2,4,6,8,10],"labels":false,"grid":false,
               "title":"m\u2002=-0.1,\u2002q\u2002=0.5","titleFont":"DejaVu Serif","titleFontSize":33,"titleFontWeight":"normal","titleColor":"black","titlePadding":8,
               "domainColor":"#262626","domainWidth":1.3,"tickColor":"#262626","tickWidth":1.3,"tickSize":-12}},
  "y":{"field":"y","type":"quantitative",
       "axis":{"orient":"right","values":[-1,-0.5,0,0.5,1,1.5,2],"labels":false,"title":null,"grid":false,
               "domainColor":"#262626","domainWidth":1.3,"tickColor":"#262626","tickWidth":1.3,"tickSize":-12}}
 }}
]
}
